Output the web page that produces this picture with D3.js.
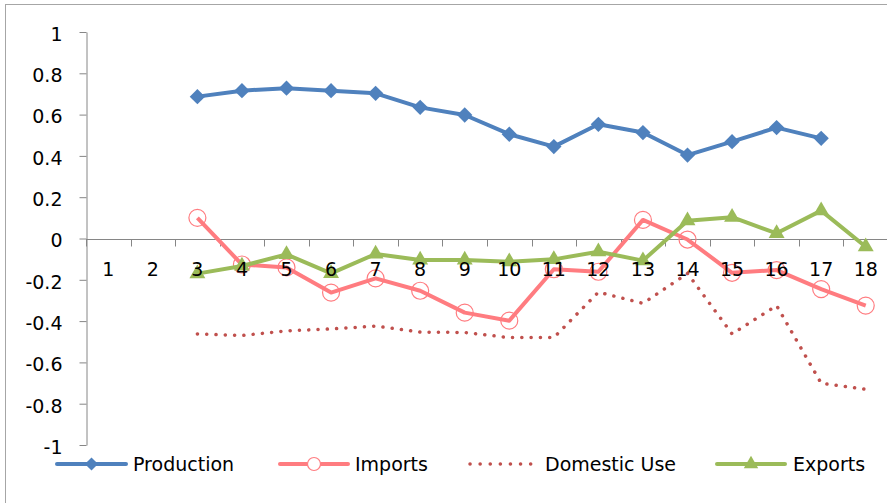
<!DOCTYPE html>
<html>
<head>
<meta charset="utf-8">
<script src="https://cdn.jsdelivr.net/npm/d3@7"></script>
<style>
  html, body { margin: 0; padding: 0; background: #fff; }
  svg { display: block; font-family: "DejaVu Sans", sans-serif; }
</style>
</head>
<body>
<svg id="chart" width="887" height="503"></svg>
<script>
// Categories along the x axis
const categories = [1, 2, 3, 4, 5, 6, 7, 8, 9, 10, 11, 12, 13, 14, 15, 16, 17, 18];

// Series values (null = no value for that category)
const production = [null, null, 0.687, 0.716, 0.728, 0.716, 0.703, 0.635, 0.598, 0.505, 0.445, 0.553, 0.513, 0.404, 0.469, 0.537, 0.485, null];
const imports    = [null, null, 0.100, -0.126, -0.140, -0.262, -0.193, -0.253, -0.359, -0.398, -0.149, -0.161, 0.090, -0.005, -0.166, -0.153, -0.245, -0.325];
const domesticUse = [null, null, -0.462, -0.470, -0.447, -0.438, -0.424, -0.453, -0.455, -0.480, -0.480, -0.260, -0.314, -0.169, -0.462, -0.325, -0.701, -0.730];
const exports_   = [null, null, -0.170, -0.133, -0.077, -0.169, -0.075, -0.104, -0.104, -0.112, -0.101, -0.064, -0.107, 0.086, 0.103, 0.025, 0.135, -0.040];

// Y-axis tick values and their labels
const yTickValues = [1, 0.8, 0.6, 0.4, 0.2, 0, -0.2, -0.4, -0.6, -0.8, -1];
const yTickLabels = ["1", "0.8", "0.6", "0.4", "0.2", "0", "-0.2", "-0.4", "-0.6", "-0.8", "-1"];

const seriesNames = ["Production", "Imports", "Domestic Use", "Exports"];

const svg = d3.select("#chart");
const axisColor = "#868686";

// Outer chart frame
svg.append("rect")
  .attr("x", 5.5).attr("y", 4.5)
  .attr("width", 1000).attr("height", 1000)
  .attr("fill", "#fff").attr("stroke", "#a6a6a6").attr("stroke-width", 1);

const x = d3.scaleBand().domain(categories).range([86, 888]);
const y = d3.scaleLinear().domain([-1, 1]).range([445, 32]);
const cx = c => x(c) + x.bandwidth() / 2;

// Y axis
const yAxis = svg.append("g")
  .attr("transform", "translate(86.5,0)")
  .call(d3.axisLeft(y)
    .tickValues(yTickValues)
    .tickFormat((d, i) => yTickLabels[i])
    .tickSize(7)
    .tickSizeOuter(0)
    .tickPadding(17));
yAxis.select(".domain").attr("stroke", axisColor);
yAxis.selectAll(".tick line").attr("stroke", axisColor);
yAxis.selectAll(".tick text")
  .attr("font-size", 19).attr("fill", "#000").attr("dy", "0.44em")
  .attr("font-family", "DejaVu Sans, sans-serif");

// Horizontal category axis at zero with boundary ticks
const zeroY = Math.round(y(0)) + 0.5;
svg.append("line")
  .attr("x1", 86).attr("x2", 888)
  .attr("y1", zeroY).attr("y2", zeroY)
  .attr("stroke", axisColor);
const boundaries = categories.map(c => x(c)).concat([x(categories[categories.length - 1]) + x.bandwidth()]);
svg.append("g").selectAll("line")
  .data(boundaries)
  .join("line")
  .attr("x1", d => Math.round(d) + 0.5).attr("x2", d => Math.round(d) + 0.5)
  .attr("y1", zeroY).attr("y2", zeroY + 7)
  .attr("stroke", axisColor);

const line = d3.line()
  .defined(d => d.v !== null)
  .x(d => cx(d.c))
  .y(d => y(d.v));

const toPoints = arr => categories.map((c, i) => ({ c, v: arr[i] }));

const colors = {
  production: "#4f81bd",
  imports: "#ff7c80",
  domestic: "#c0504d",
  exports: "#9bbb59"
};

const plot = svg.append("g");

// Production: solid line with diamonds
plot.append("path")
  .datum(toPoints(production))
  .attr("d", line)
  .attr("fill", "none").attr("stroke", colors.production)
  .attr("stroke-width", 4).attr("stroke-linejoin", "round");
plot.append("g").selectAll("path")
  .data(toPoints(production).filter(d => d.v !== null))
  .join("path")
  .attr("d", d3.symbol(d3.symbolDiamond2, 150))
  .attr("transform", d => `translate(${cx(d.c)},${y(d.v)}) rotate(0)`)
  .attr("fill", colors.production);

// Imports: solid line with open circles
plot.append("path")
  .datum(toPoints(imports))
  .attr("d", line)
  .attr("fill", "none").attr("stroke", colors.imports)
  .attr("stroke-width", 4).attr("stroke-linejoin", "round");
plot.append("g").selectAll("circle")
  .data(toPoints(imports).filter(d => d.v !== null))
  .join("circle")
  .attr("cx", d => cx(d.c)).attr("cy", d => y(d.v)).attr("r", 8.5)
  .attr("fill", "none").attr("stroke", colors.imports).attr("stroke-width", 1.2);

// Domestic use: round dotted line
plot.append("path")
  .datum(toPoints(domesticUse))
  .attr("d", line)
  .attr("fill", "none").attr("stroke", colors.domestic)
  .attr("stroke-width", 3.5).attr("stroke-linecap", "round")
  .attr("stroke-dasharray", "0.1 9.2");

// Exports: solid line with triangles
plot.append("path")
  .datum(toPoints(exports_))
  .attr("d", line)
  .attr("fill", "none").attr("stroke", colors.exports)
  .attr("stroke-width", 4).attr("stroke-linejoin", "round");
plot.append("g").selectAll("path")
  .data(toPoints(exports_).filter(d => d.v !== null))
  .join("path")
  .attr("d", d3.symbol(d3.symbolTriangle, 110))
  .attr("transform", d => `translate(${cx(d.c)},${y(d.v)})`)
  .attr("fill", colors.exports);

// Category labels
svg.append("g").selectAll("text")
  .data(categories)
  .join("text")
  .attr("x", d => cx(d)).attr("y", 276)
  .attr("text-anchor", "middle")
  .attr("font-size", 19).attr("fill", "#000")
  .text(d => d);

// Legend
const legendY = 464;
const legend = svg.append("g");
const legendItems = [
  { name: seriesNames[0], x0: 57, x1: 126, tx: 133, color: colors.production, marker: "diamond" },
  { name: seriesNames[1], x0: 280, x1: 348, tx: 355, color: colors.imports, marker: "circle" },
  { name: seriesNames[2], x0: 470, x1: 531, tx: 545, color: colors.domestic, marker: "dots" },
  { name: seriesNames[3], x0: 717, x1: 785, tx: 793, color: colors.exports, marker: "triangle" }
];
legendItems.forEach(it => {
  const g = legend.append("g");
  const mid = (it.x0 + it.x1) / 2;
  if (it.marker === "dots") {
    g.append("line")
      .attr("x1", it.x0).attr("x2", it.x1).attr("y1", legendY).attr("y2", legendY)
      .attr("stroke", it.color).attr("stroke-width", 3.5).attr("stroke-linecap", "round")
      .attr("stroke-dasharray", "0.1 10");
  } else {
    g.append("line")
      .attr("x1", it.x0).attr("x2", it.x1).attr("y1", legendY).attr("y2", legendY)
      .attr("stroke", it.color).attr("stroke-width", 4).attr("stroke-linecap", "round");
  }
  if (it.marker === "diamond") {
    g.append("path").attr("d", d3.symbol(d3.symbolDiamond2, 110))
      .attr("transform", `translate(${mid},${legendY})`).attr("fill", it.color);
  } else if (it.marker === "circle") {
    g.append("circle").attr("cx", mid).attr("cy", legendY).attr("r", 6.5)
      .attr("fill", "#fff").attr("stroke", it.color).attr("stroke-width", 1.2);
  } else if (it.marker === "triangle") {
    g.append("path").attr("d", d3.symbol(d3.symbolTriangle, 90))
      .attr("transform", `translate(${mid},${legendY})`).attr("fill", it.color);
  }
  g.append("text")
    .attr("x", it.tx).attr("y", legendY + 7)
    .attr("font-size", 19).attr("fill", "#000")
    .text(it.name);
});
</script>
</body>
</html>
